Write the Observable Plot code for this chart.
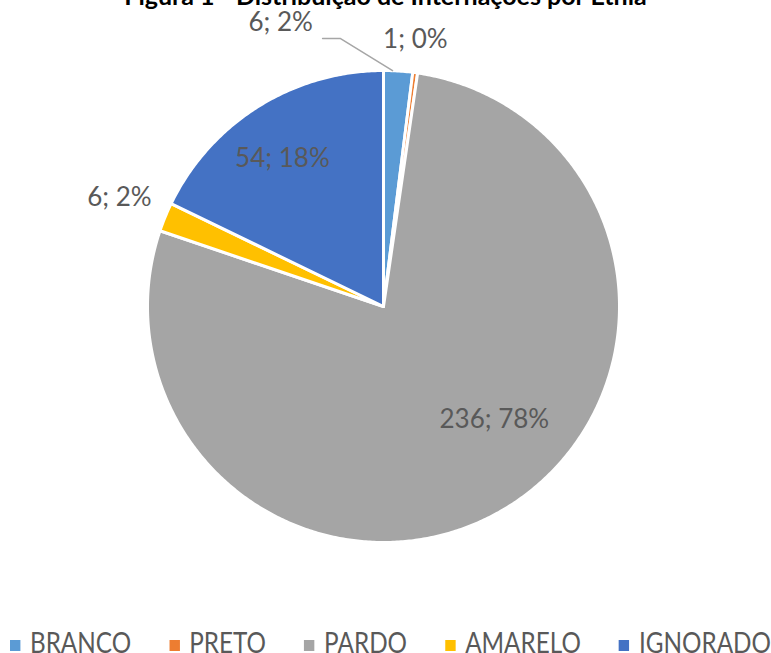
<!DOCTYPE html>
<html><head><meta charset="utf-8">
<script src="https://cdn.jsdelivr.net/npm/d3@7"></script>
<script src="https://cdn.jsdelivr.net/npm/@observablehq/plot@0.6"></script>
<style>
body{margin:0;background:#fff;font-family:Lato,sans-serif;}
#wrap{position:relative;width:771px;height:653px;overflow:hidden;background:#fff;}
#title{position:absolute;left:0;width:771px;top:-17px;text-align:center;font-weight:bold;font-size:25px;line-height:25px;color:#000;white-space:nowrap;}
#legend{position:absolute;left:10px;top:628px;display:inline-flex;align-items:center;font-size:28px;line-height:28px;color:#595959;white-space:nowrap;transform-origin:0 50%;}
.item{display:flex;align-items:center;margin-right:44px;}
.item:last-child{margin-right:0;}
.sw{width:12px;height:11px;margin-right:11px;position:relative;top:3px;}
</style></head><body>
<div id="wrap"><div id="chart"></div><div id="title"></div><div id="legend"></div></div>
<script>
// ---- data ----
const title = "Figura 1 - Distribuição de Internações por Etnia";
const categories = ["BRANCO", "PRETO", "PARDO", "AMARELO", "IGNORADO"];
const counts = [6, 1, 236, 6, 54];
const percentLabels = ["2%", "0%", "78%", "2%", "18%"];
const colors = ["#5B9BD5", "#ED7D31", "#A5A5A5", "#FFC000", "#4472C4"];

// ---- layout (not data) ----
const W = 771, H = 600, cx = 383, cy = 306, R = 236;
// label placement: angle (deg, clockwise from north) and radius fraction
const labelPlace = {
  BRANCO:   {a: -19.9, r: 1.28, leader: {edgeA: 2.2, elbowA: -9.1, elbowR: 1.15, run: 18}},
  PRETO:    {a: 6.8,   r: 1.14},
  PARDO:    {a: 135.5, r: 0.67},
  AMARELO:  {a: 292.4, r: 1.21},
  IGNORADO: {a: 325.7, r: 0.76}
};

const total = d3.sum(counts);
const rad = d => d * Math.PI / 180;
const pt = (aDeg, rr) => [cx + rr * Math.sin(rad(aDeg)), cy - rr * Math.cos(rad(aDeg))];

// build slices from the data
let cum = 0;
const slices = categories.map((c, i) => {
  const a0 = cum / total * 360;
  cum += counts[i];
  const a1 = cum / total * 360;
  return {cat: c, value: counts[i], color: colors[i], a0, a1, label: `${counts[i]}; ${percentLabels[i]}`};
});

const polyPts = [];
for (const s of slices) {
  const n = Math.max(2, Math.ceil((s.a1 - s.a0) / 0.5));
  polyPts.push({cat: s.cat, color: s.color, x: cx, y: cy});
  for (let k = 0; k <= n; k++) {
    const a = s.a0 + (s.a1 - s.a0) * k / n;
    const [x, y] = pt(a, R);
    polyPts.push({cat: s.cat, color: s.color, x, y});
  }
  polyPts.push({cat: s.cat, color: s.color, x: cx, y: cy});
}

const labels = slices.map(s => {
  const p = labelPlace[s.cat];
  const [x, y] = pt(p.a, p.r * R);
  return {text: s.label, x, y};
});

const leaderPts = [];
slices.forEach(s => {
  const L = labelPlace[s.cat].leader;
  if (!L) return;
  const [x0, y0] = pt(L.edgeA, R);
  const [x1, y1] = pt(L.elbowA, L.elbowR * R);
  leaderPts.push({x: x0, y: y0}, {x: x1, y: y1}, {x: x1 - L.run, y: y1});
});

const chart = Plot.plot({
  width: W, height: H,
  margin: 0,
  x: {type: "identity", axis: null},
  y: {type: "identity", axis: null},
  color: {type: "identity"},
  style: {fontFamily: "Lato, sans-serif", background: "transparent"},
  marks: [
    Plot.line(polyPts, {x: "x", y: "y", z: "cat", fill: "color", stroke: "white", strokeWidth: 3, strokeLinejoin: "round"}),
    Plot.line(leaderPts, {x: "x", y: "y", stroke: "#A6A6A6", strokeWidth: 1.5}),
    Plot.text(labels, {x: "x", y: "y", text: "text", fill: "#595959", fontSize: 26})
  ]
});
document.getElementById("chart").appendChild(chart);
document.getElementById("title").textContent = title;

const legend = document.getElementById("legend");
categories.forEach((c, i) => {
  const it = document.createElement("div");
  it.className = "item";
  const sw = document.createElement("span");
  sw.className = "sw";
  sw.style.background = colors[i];
  const t = document.createElement("span");
  t.textContent = c;
  it.appendChild(sw); it.appendChild(t);
  legend.appendChild(it);
});
// compress legend horizontally to span the same width as the reference
const lw = legend.getBoundingClientRect().width;
legend.style.transform = `scaleX(${761 / lw})`;
</script>
</body></html>
